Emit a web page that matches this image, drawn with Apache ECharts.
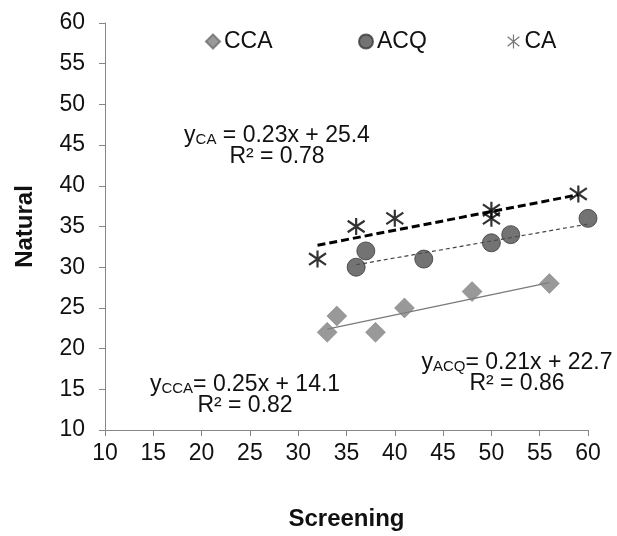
<!DOCTYPE html>
<html>
<head>
<meta charset="utf-8">
<script src="https://cdn.jsdelivr.net/npm/echarts@6/dist/echarts.min.js"></script>
<style>
html,body{margin:0;padding:0;background:#fff;}
#chart{width:617px;height:536px;}
</style>
</head>
<body>
<div id="chart"></div>
<script>
// ---- data ----
const ccaPoints = [[33,22],[34,24],[38,22],[41,25],[48,27],[56,28]];
const acqPoints = [[36,30],[37,32],[43,31],[50,33],[52,34],[60,36]];
const caPoints  = [[32,31],[36,35],[40,36],[50,37],[50,36],[59,39]];
// trendline end points
const ccaTrend = [[33,22.4],[56,28.1]];
const acqTrend = [[36,30.3],[60,35.3]];
const caTrend  = [[32,32.7],[59,38.9]];
const seriesNames = ['CCA','ACQ','CA'];
const xName = 'Screening';
const yName = 'Natural';
const eqCA  = ['CA',  ' = 0.23x + 25.4', 'R² = 0.78'];
const eqCCA = ['CCA', '= 0.25x + 14.1', 'R² = 0.82'];
const eqACQ = ['ACQ', '= 0.21x + 22.7', 'R² = 0.86'];

const FONT = 'Liberation Sans, Arial, sans-serif';
const starPath = 'path://M5,0L5,10M0.8,1.6L9.2,8.4M0.8,8.4L9.2,1.6';

const chart = echarts.init(document.getElementById('chart'), null, {renderer:'canvas'});

const axisCommon = {
  min: 10, max: 60, interval: 5,
  axisLine: {show:true, onZero:false, lineStyle:{color:'#868686', width:1}},
  axisTick: {show:true, inside:false, length:6, lineStyle:{color:'#868686'}},
  splitLine: {show:false},
  nameLocation: 'middle',
  nameTextStyle: {fontFamily: FONT, fontSize: 24, fontWeight:'bold', color:'#111'}
};

function eqText(cx, cy, parts) {
  return [
    {
      type:'text', x: cx, y: cy, z: 10,
      style: {
        text: '{y|y}{s|' + parts[0] + '}{n|' + parts[1] + '}',
        align:'center', verticalAlign:'middle',
        rich: {
          y: {fontFamily: FONT, fontSize: 23, fill:'#111', lineHeight: 26, verticalAlign:'bottom'},
          s: {fontFamily: FONT, fontSize: 15, fill:'#111', lineHeight: 26, verticalAlign:'bottom', padding:[0,0,0,0]},
          n: {fontFamily: FONT, fontSize: 23, fill:'#111', lineHeight: 26, verticalAlign:'bottom'}
        }
      }
    },
    {
      type:'text', x: cx, y: cy + 23, z: 10,
      style: {
        text: parts[2], align:'center', verticalAlign:'middle',
        font: '23px ' + FONT, fill:'#111'
      }
    }
  ];
}

const legendCommon = {
  orient:'horizontal', top: 25, itemWidth: 14, itemHeight: 14, itemGap: 5,
  textStyle: {fontFamily: FONT, fontSize: 23, color:'#111', padding:[0,0,0,-1]}
};

const option = {
  backgroundColor:'#fff',
  animation:false,
  grid: {left:105, right:29, top:23, bottom:103, containLabel:false},
  legend: [
    Object.assign({}, legendCommon, {left: 200, data:[seriesNames[0]]}),
    Object.assign({}, legendCommon, {left: 353, data:[seriesNames[1]]}),
    Object.assign({}, legendCommon, {left: 502, data:[{name: seriesNames[2], itemStyle:{color:'transparent', borderColor:'#555', borderWidth:1.2}}]})
  ],
  xAxis: Object.assign({}, axisCommon, {
    type:'value', name: xName, nameGap: 77,
    axisLabel: {fontFamily: FONT, fontSize: 23, color:'#111', margin: 12}
  }),
  yAxis: Object.assign({}, axisCommon, {
    type:'value', name: yName, nameGap: 68, nameRotate: 90,
    axisLabel: {fontFamily: FONT, fontSize: 23, color:'#111', margin: 20}
  }),
  graphic: [].concat(
    eqText(277, 134, eqCA),
    eqText(245, 383, eqCCA),
    eqText(517, 361, eqACQ)
  ),
  series: [
    {
      name: seriesNames[0], type:'scatter', data: ccaPoints,
      symbol:'diamond', symbolSize: 20,
      itemStyle:{color:'#808080', borderColor:'#6e6e6e', borderWidth:0.5}, z:3
    },
    {
      name: seriesNames[1], type:'scatter', data: acqPoints,
      symbol:'circle', symbolSize: 18,
      itemStyle:{color:'#505050', borderColor:'#3a3a3a', borderWidth:1}, z:3
    },
    {
      name: seriesNames[2], type:'scatter', data: caPoints,
      symbol: starPath, symbolSize: 17,
      itemStyle:{color:'transparent', borderColor:'#000', borderWidth:2.2}, z:4
    },
    {
      name:'ccaTrend', type:'line', data: ccaTrend, showSymbol:false, symbol:'none',
      lineStyle:{color:'#7a7a7a', width:1.2, type:'solid'}, z:2, silent:true
    },
    {
      name:'acqTrend', type:'line', data: acqTrend, showSymbol:false, symbol:'none',
      lineStyle:{color:'#444', width:1.2, type:[4,3]}, z:2, silent:true
    },
    {
      name:'caTrend', type:'line', data: caTrend, showSymbol:false, symbol:'none',
      lineStyle:{color:'#000', width:3, type:[8,4]}, z:5, silent:true
    }
  ]
};
chart.setOption(option);
</script>
</body>
</html>
